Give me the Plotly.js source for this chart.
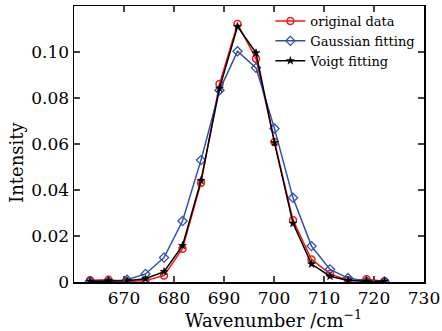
<!DOCTYPE html>
<html>
<head>
<meta charset="utf-8">
<script src="https://cdn.plot.ly/plotly-3.0.1.min.js"></script>
<style>html,body{margin:0;padding:0;background:#fff;}#chart{width:442px;height:331px;}</style>
</head>
<body>
<div id="chart"></div>
<script>
var wavenumber = [663.2, 666.9, 670.6, 674.3, 678.0, 681.7, 685.4, 689.1, 692.7, 696.4, 700.1, 703.8, 707.5, 711.2, 714.8, 718.5, 722.1];
var originalData = [0.0008, 0.001, 0.0002, 0.0006, 0.0028, 0.0145, 0.0431, 0.0861, 0.1122, 0.0971, 0.0609, 0.0269, 0.0098, 0.0035, 0.0008, 0.0012, 0.0003];
var gaussianFit = [0.0003, 0.0002, 0.001, 0.0035, 0.0106, 0.0265, 0.053, 0.0834, 0.1003, 0.0931, 0.0667, 0.0366, 0.0156, 0.0055, 0.0017, 0.0003, 0.0002];
var voigtFit = [0.0003, 0.0005, 0.0005, 0.0014, 0.0045, 0.0158, 0.0441, 0.0842, 0.1111, 0.0996, 0.0606, 0.0255, 0.0078, 0.0025, 0.0007, 0.0003, 0.0003];
var seriesNames = ["original data", "Gaussian fitting", "Voigt fitting"];
var xTickVals = [670, 680, 690, 700, 710, 720, 730];
var yTickVals = [0, 0.02, 0.04, 0.06, 0.08, 0.10];
var yTickText = ["0", "0.02", "0.04", "0.06", "0.08", "0.10"];

var serif = "DejaVu Serif";
var traces = [
  {x: wavenumber, y: originalData, name: seriesNames[0], mode: "lines+markers", type: "scatter",
   line: {color: "#f01818", width: 1.5},
   marker: {symbol: "circle-open", size: 7, color: "#f01818", line: {width: 1.5, color: "#f01818"}}},
  {x: wavenumber, y: gaussianFit, name: seriesNames[1], mode: "lines+markers", type: "scatter",
   line: {color: "#2f4fae", width: 1.5},
   marker: {symbol: "diamond-open", size: 7, color: "#2f4fae", line: {width: 1.3, color: "#2f4fae"}}},
  {x: wavenumber, y: voigtFit, name: seriesNames[2], mode: "lines+markers", type: "scatter",
   line: {color: "#000000", width: 1.5},
   marker: {symbol: "star", size: 6, color: "#000000", line: {width: 0.5, color: "#000000"}}}
];

var layout = {
  width: 442, height: 331,
  margin: {l: 74, r: 18, t: 6, b: 49},
  paper_bgcolor: "#fff", plot_bgcolor: "#fff",
  font: {family: serif, color: "#000"},
  showlegend: true,
  legend: {x: 0.561, y: 1.0, xanchor: "left", yanchor: "top", bgcolor: "rgba(0,0,0,0)",
           font: {family: serif, size: 13, color: "#000"}, tracegroupgap: 0, itemwidth: 30},
  xaxis: {range: [660, 730], tickvals: xTickVals, ticks: "inside", ticklen: 6, tickwidth: 1.3,
          showline: true, linewidth: 1.5, linecolor: "#000", mirror: "ticks", showgrid: false, zeroline: false,
          tickfont: {family: serif, size: 17, color: "#000"}},
  yaxis: {range: [0, 0.12], tickvals: yTickVals, ticktext: yTickText, ticks: "inside", ticklen: 6, tickwidth: 1.3,
          showline: true, linewidth: 1.5, linecolor: "#000", mirror: "ticks", showgrid: false, zeroline: false,
          tickfont: {family: serif, size: 17, color: "#000"}},
  annotations: [
    {text: "Wavenumber /cm<sup>−1</sup>", xref: "paper", yref: "paper", x: 0.571, y: -0.135,
     xanchor: "center", yanchor: "middle", showarrow: false, font: {family: serif, size: 18, color: "#000"}},
    {text: "Intensity", xref: "paper", yref: "paper", x: -0.163, y: 0.435, textangle: -90,
     xanchor: "center", yanchor: "middle", showarrow: false, font: {family: serif, size: 18, color: "#000"}}
  ]
};
Plotly.newPlot("chart", traces, layout, {displayModeBar: false, staticPlot: true});
</script>
</body>
</html>
